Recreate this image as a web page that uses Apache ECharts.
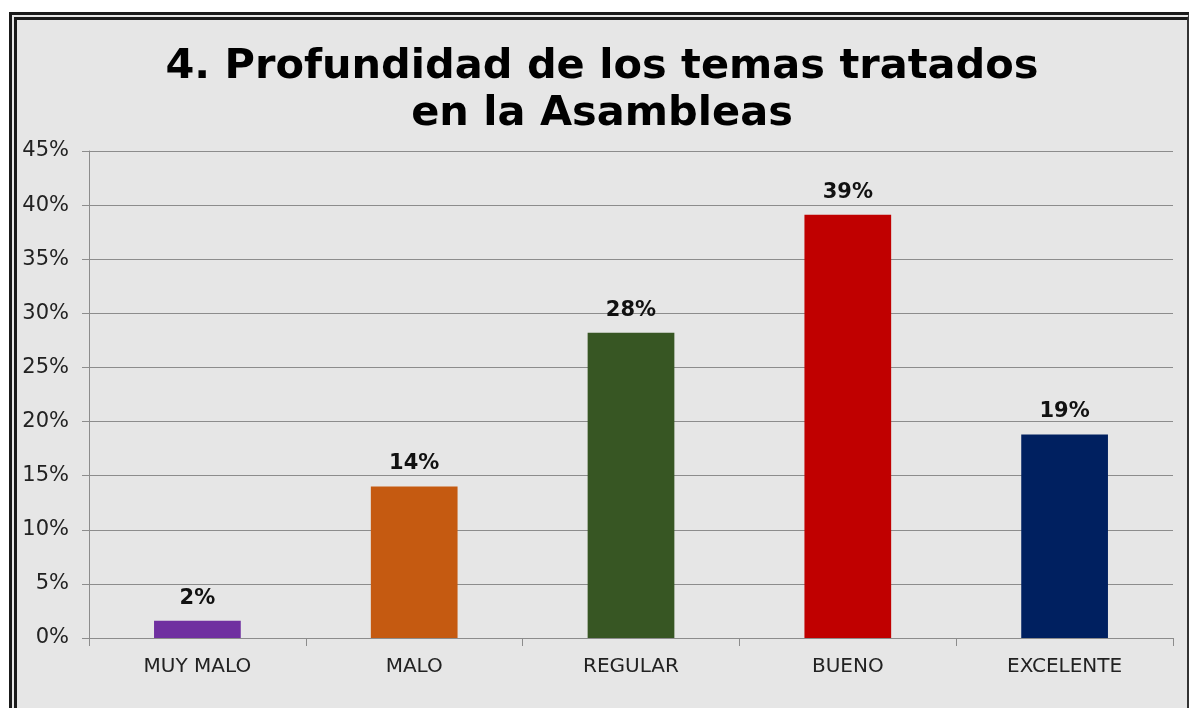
<!DOCTYPE html>
<html>
<head>
<meta charset="utf-8">
<script src="https://cdn.jsdelivr.net/npm/echarts@6/dist/echarts.min.js"></script>
<style>
  html, body { margin: 0; padding: 0; background: #ffffff; overflow: hidden; }
  .frame {
    position: absolute; left: 9px; top: 12px; width: 1170px; height: 720px;
    border-left: 8px double #1a1a1a; border-top: 8px double #1a1a1a;
    border-right: 2px solid #333333;
    background: #e6e6e6;
  }
  .com-chart { width: 1170px; height: 688px; }
</style>
</head>
<body>
<div class="frame">
  <div class="com-chart" id="chart_ref"></div>
</div>
<script>
// 数据部分
const categories = ["MUY MALO", "MALO", "REGULAR", "BUENO", "EXCELENTE"];
const values = [1.6, 14.0, 28.2, 39.1, 18.8]; // 百分比
const barColors = ["#7030a0", "#c55a11", "#375623", "#c00000", "#002060"];
const yTicks = [0, 5, 10, 15, 20, 25, 30, 35, 40, 45];

const chartInstance = echarts.init(document.getElementById("chart_ref"));
const option = {
  animation: false,
  title: {
    text: "4. Profundidad de los temas tratados\nen la Asambleas",
    left: "center",
    top: 19,
    textStyle: {
      fontFamily: "DejaVu Sans",
      fontWeight: "bold",
      fontSize: 41.5,
      lineHeight: 47,
      color: "#000000",
    },
  },
  grid: {
    left: 72,
    right: 14,
    top: 131,
    bottom: 70,
  },
  xAxis: {
    type: "category",
    data: categories,
    axisLine: { lineStyle: { color: "#8c8c8c", width: 1 } },
    axisTick: { show: true, length: 8, lineStyle: { color: "#8c8c8c" } },
    axisLabel: {
      margin: 19,
      fontFamily: "DejaVu Sans",
      fontSize: 20,
      color: "#222222",
    },
  },
  yAxis: {
    type: "value",
    min: yTicks[0],
    max: yTicks[yTicks.length - 1],
    interval: 5,
    axisLine: { show: true, lineStyle: { color: "#8c8c8c", width: 1 } },
    axisTick: { show: true, length: 7, lineStyle: { color: "#8c8c8c" } },
    splitLine: { lineStyle: { color: "#8c8c8c", width: 1 } },
    axisLabel: {
      margin: 20,
      formatter: "{value}%",
      fontFamily: "DejaVu Sans",
      fontSize: 21,
      color: "#222222",
    },
  },
  series: [
    {
      type: "bar",
      barWidth: "40%",
      data: values.map((v, i) => ({
        value: v,
        itemStyle: { color: barColors[i] },
      })),
      label: {
        show: true,
        position: "top",
        distance: 12,
        formatter: (p) => Math.round(p.value) + "%",
        fontFamily: "DejaVu Sans",
        fontWeight: "bold",
        fontSize: 21,
        color: "#111111",
      },
    },
  ],
};
chartInstance.setOption(option);
</script>
</body>
</html>
